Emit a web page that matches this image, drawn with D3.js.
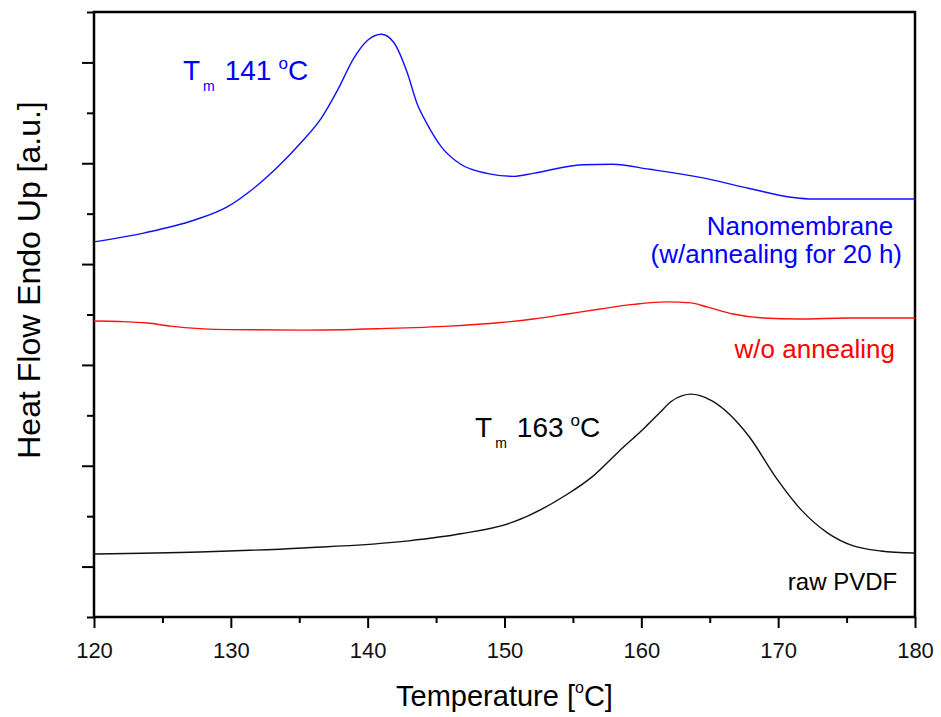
<!DOCTYPE html>
<html>
<head>
<meta charset="utf-8">
<script src="https://cdn.jsdelivr.net/npm/d3@7"></script>
<style>
  body { margin: 0; background: #fff; }
  text { font-family: Arial, "Liberation Sans", sans-serif; }
</style>
</head>
<body>
<svg id="chart"></svg>
<script>
// temperatures (°C) and heat flow (arbitrary units)
const blueT = [120, 123.7, 127.3, 129.7, 131.7, 133.4, 135.1, 136.6, 137.8, 139.0, 140.0, 141.0, 141.9, 142.9, 143.6, 144.3, 145.4, 146.8, 148.7, 150.7, 152.1, 155.7, 157.9, 160.6, 164.3, 167.9, 171.1, 172.5, 180];
const blueV = [7.44, 7.62, 7.87, 8.13, 8.51, 8.92, 9.40, 9.89, 10.45, 11.09, 11.44, 11.56, 11.40, 10.79, 10.19, 9.80, 9.32, 8.98, 8.80, 8.74, 8.80, 8.97, 8.98, 8.88, 8.72, 8.50, 8.32, 8.29, 8.29];

const redT = [120, 121.9, 123.9, 125.6, 129.9, 135.1, 140.9, 146.0, 149.7, 152.1, 154.6, 157.0, 159.4, 161.9, 163.6, 164.8, 166.7, 168.9, 171.6, 175.0, 180];
const redV = [5.87, 5.86, 5.83, 5.77, 5.70, 5.69, 5.72, 5.77, 5.84, 5.91, 6.01, 6.11, 6.20, 6.25, 6.23, 6.15, 6.01, 5.93, 5.91, 5.93, 5.93];

const blackT = [120, 127.7, 135.3, 143.0, 146.8, 150.6, 154.5, 156.4, 158.3, 160.3, 161.3, 162.2, 163.0, 163.6, 164.3, 165.2, 167.9, 169.8, 171.7, 173.6, 175.5, 177.5, 180];
const blackV = [1.25, 1.29, 1.37, 1.51, 1.65, 1.88, 2.42, 2.78, 3.27, 3.77, 4.04, 4.28, 4.39, 4.42, 4.39, 4.28, 3.57, 2.78, 2.12, 1.67, 1.41, 1.31, 1.27];

const xTicks = [120, 130, 140, 150, 160, 170, 180];
const xMinor = [125, 135, 145, 155, 165, 175];
const yMajor = [1, 3, 5, 7, 9, 11];
const yMinor = [0, 2, 4, 6, 8, 10, 12];

const config = {
  width: 941, height: 717,
  margin: { top: 12, right: 26, bottom: 100, left: 94 }
};

const svg = d3.select('#chart')
    .attr('width', config.width)
    .attr('height', config.height);

const w = config.width - config.margin.left - config.margin.right;
const h = config.height - config.margin.top - config.margin.bottom;

const chart = svg.append('g')
    .attr('transform', `translate(${config.margin.left},${config.margin.top})`);

const x = d3.scaleLinear().domain([120, 180]).range([0, w]);
const y = d3.scaleLinear().domain([0, 12]).range([h, 0]);

// axes
const xAxisMinor = d3.axisBottom(x).tickValues(xMinor).tickSize(6).tickFormat('');
const xAxis = d3.axisBottom(x).tickValues(xTicks).tickSize(11).tickPadding(14).tickFormat(d3.format('d'));
const yAxisMinor = d3.axisLeft(y).tickValues(yMinor).tickSize(7).tickFormat('');
const yAxis = d3.axisLeft(y).tickValues(yMajor).tickSize(12).tickFormat('');

function styleAxis(g) {
  g.select('.domain').remove();
  g.selectAll('.tick line').attr('stroke', '#000').attr('stroke-width', 2);
  g.selectAll('.tick text').attr('fill', '#111').style('font-size', '22px');
}

chart.append('g').attr('transform', `translate(0,${h})`).call(xAxisMinor).call(styleAxis);
chart.append('g').attr('transform', `translate(0,${h})`).call(xAxis).call(styleAxis);
chart.append('g').call(yAxisMinor).call(styleAxis);
chart.append('g').call(yAxis).call(styleAxis);

// frame
chart.append('rect')
    .attr('x', 0).attr('y', 0)
    .attr('width', w).attr('height', h)
    .attr('fill', 'none')
    .attr('stroke', '#000')
    .attr('stroke-width', 2.5);

// curves
const line = d3.line()
    .x(d => x(d[0]))
    .y(d => y(d[1]))
    .curve(d3.curveMonotoneX);

const series = [
  { t: blueT, v: blueV, color: '#1010ff' },
  { t: redT, v: redV, color: '#ff1010' },
  { t: blackT, v: blackV, color: '#111' }
];

series.forEach(s => {
  chart.append('path')
      .datum(d3.zip(s.t, s.v))
      .attr('fill', 'none')
      .attr('stroke', s.color)
      .attr('stroke-width', 1.4)
      .attr('d', line);
});

// annotations
function tmLabel(tx, vy, value, color) {
  const t = chart.append('text')
      .attr('x', x(tx)).attr('y', y(vy))
      .attr('fill', color)
      .style('font-size', '28px');
  t.append('tspan').text('T');
  t.append('tspan').text('m').style('font-size', '14px').attr('dx', 3).attr('dy', 11);
  t.append('tspan').text(value).attr('dx', 10).attr('dy', -11);
  t.append('tspan').text('o').style('font-size', '17px').attr('dx', 7).attr('dy', -11);
  t.append('tspan').text('C').attr('dy', 11);
}

tmLabel(126.5, 10.65, '141', '#0000ff');
tmLabel(147.85, 3.57, '163', '#000');

const labels = [
  { text: 'Nanomembrane', t: 178.4, v: 7.58, color: '#0000ff' },
  { text: '(w/annealing for 20 h)', t: 179.05, v: 7.02, color: '#0000ff' },
  { text: 'w/o annealing', t: 178.54, v: 5.14, color: '#ff0000' },
  { text: 'raw PVDF', t: 178.7, v: 0.54, color: '#000' }
];

labels.forEach(l => {
  chart.append('text')
      .attr('x', x(l.t)).attr('y', y(l.v))
      .attr('text-anchor', 'end')
      .attr('fill', l.color)
      .style('font-size', l.text === 'raw PVDF' ? '24px' : '26px')
      .text(l.text);
});

// axis titles
const xt = svg.append('text')
    .attr('x', config.margin.left + w / 2)
    .attr('y', 706)
    .attr('text-anchor', 'middle')
    .attr('fill', '#000')
    .style('font-size', '29px');
xt.append('tspan').text('Temperature [');
xt.append('tspan').text('o').style('font-size', '16px').attr('dy', -13);
xt.append('tspan').text('C]').attr('dy', 13);

svg.append('text')
    .attr('transform', 'translate(40,280) rotate(-90)')
    .attr('text-anchor', 'middle')
    .attr('fill', '#000')
    .style('font-size', '32px')
    .text('Heat Flow Endo Up [a.u.]');
</script>
</body>
</html>
